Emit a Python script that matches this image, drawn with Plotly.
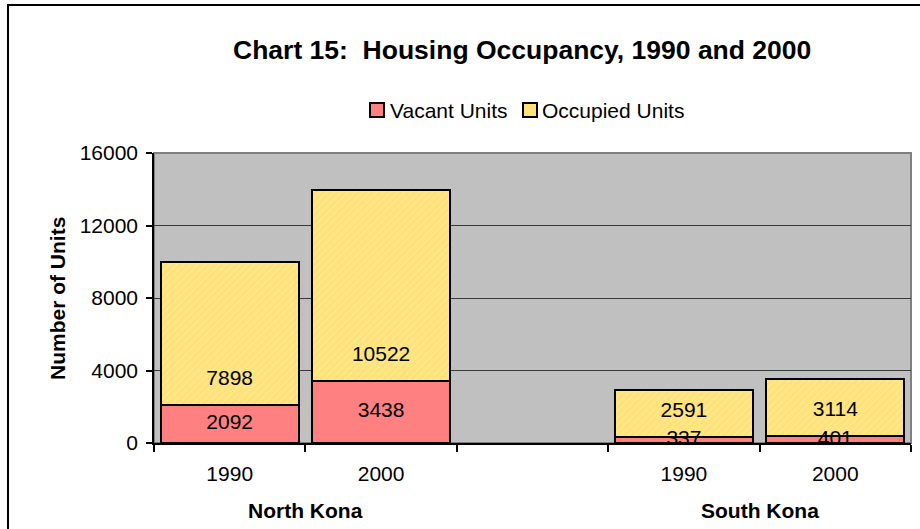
import plotly.graph_objects as go

# Housing units by district and census year
districts = ["North Kona", "South Kona"]
years = ["1990", "2000"]
slot_labels = ["1990", "2000", "", "1990", "2000"]
slot_pos = [0, 1, 3, 4]          # category slots used by bars (slot 2 is the spacer)
vacant = [2092, 3438, 337, 401]
occupied = [7898, 10522, 2591, 3114]

RED = "#FF8080"
YELLOW = "#FFE27A"
FONT = "Liberation Sans, Arial, sans-serif"

W, H = 920, 529
L, R, T, B = 154, 9, 153, 86
PW, PH = W - L - R, H - T - B
Y_MAX = 16000


def px_x(px):
    return (px - L) / PW


def px_y(py):
    return (H - B - py) / PH


fig = go.Figure()

fig.add_trace(go.Bar(
    x=slot_pos, y=vacant, name="Vacant Units", width=0.91,
    marker=dict(color=RED, line=dict(color="black", width=2.5)),
    showlegend=False, hoverinfo="skip",
))
fig.add_trace(go.Bar(
    x=slot_pos, y=occupied, name="Occupied Units", width=0.91,
    marker=dict(color=YELLOW, line=dict(color="black", width=2.5),
                pattern=dict(shape="/", fgcolor="#FFF0B0", size=5, solidity=0.25)),
    showlegend=False, hoverinfo="skip",
))

# value labels: vacant centred in its segment, occupied near the base of its segment
base_pad = 25 / PH * Y_MAX       # ~25 px above the segment bottom, in data units
lab_x, lab_y, lab_t = [], [], []
for x, v, o in zip(slot_pos, vacant, occupied):
    lab_x += [x, x]
    lab_y += [v / 2, v + base_pad]
    lab_t += [str(v), str(o)]
fig.add_trace(go.Scatter(
    x=lab_x, y=lab_y, text=lab_t, mode="text",
    textfont=dict(family=FONT, size=21, color="black"),
    textposition="middle center", showlegend=False, hoverinfo="skip",
))

shapes = [
    # outer chart frame
    dict(type="rect", xref="paper", yref="paper",
         x0=px_x(8), x1=px_x(930), y0=px_y(540), y1=px_y(5),
         line=dict(color="black", width=2), layer="below"),
    # plot area border (top / right)
    dict(type="rect", xref="paper", yref="paper",
         x0=0, x1=1, y0=0, y1=1,
         line=dict(color="#808080", width=2), layer="below"),
]

# legend drawn as boxes + labels
legend_items = [("Vacant Units", RED, 370, 388), ("Occupied Units", YELLOW, 523, 540)]
annotations = []
for name, col, bx, tx in legend_items:
    shapes.append(dict(type="rect", xref="paper", yref="paper",
                       x0=px_x(bx), x1=px_x(bx + 14), y0=px_y(117), y1=px_y(103),
                       fillcolor=col, line=dict(color="black", width=2)))
    annotations.append(dict(text=name, xref="paper", yref="paper",
                            x=px_x(tx), y=px_y(110), xanchor="left", yanchor="middle",
                            showarrow=False, font=dict(family=FONT, size=21, color="black")))

annotations += [
    dict(text="<b>Chart 15:&nbsp; Housing Occupancy, 1990 and 2000</b>",
         xref="paper", yref="paper", x=px_x(522), y=px_y(50),
         xanchor="center", yanchor="middle", showarrow=False,
         font=dict(family=FONT, size=26.5, color="black")),
    dict(text="<b>Number of Units</b>", textangle=-90,
         xref="paper", yref="paper", x=px_x(57), y=0.5,
         xanchor="center", yanchor="middle", showarrow=False,
         font=dict(family=FONT, size=21, color="black")),
]
for i, d in enumerate(districts):
    cx = (slot_pos[2 * i] + slot_pos[2 * i + 1]) / 2
    annotations.append(dict(text=f"<b>{d}</b>", xref="x", yref="paper",
                            x=cx, y=px_y(510), xanchor="center", yanchor="middle",
                            showarrow=False, font=dict(family=FONT, size=21, color="black")))

fig.update_layout(
    width=W, height=H,
    margin=dict(l=L, r=R, t=T, b=B),
    paper_bgcolor="white", plot_bgcolor="#C0C0C0",
    barmode="stack", bargap=0,
    showlegend=False,
    shapes=shapes, annotations=annotations,
    font=dict(family=FONT, size=21, color="black"),
)

fig.update_xaxes(
    range=[-0.5, 4.5],
    tickmode="array", tickvals=list(range(len(slot_labels))), ticktext=slot_labels,
    ticks="outside", ticklen=11, tickcolor="rgba(0,0,0,0)",
    tickfont=dict(family=FONT, size=21, color="black"),
    showline=True, linecolor="black", linewidth=1.5,
    showgrid=False, zeroline=False,
    minor=dict(tickmode="array", tickvals=[k - 0.5 for k in range(len(slot_labels) + 1)],
               ticks="outside", ticklen=7, tickcolor="black", tickwidth=1.5, showgrid=False),
)
fig.update_yaxes(
    range=[0, Y_MAX], tickmode="linear", tick0=0, dtick=4000, tickformat="d",
    ticks="outside", ticklen=6, tickcolor="black", tickwidth=1.5,
    ticklabelstandoff=4,
    tickfont=dict(family=FONT, size=21, color="black"),
    showline=True, linecolor="black", linewidth=1.5,
    showgrid=True, gridcolor="#3A3A3A", gridwidth=1,
    zeroline=False,
)

fig.write_html("out.html")
